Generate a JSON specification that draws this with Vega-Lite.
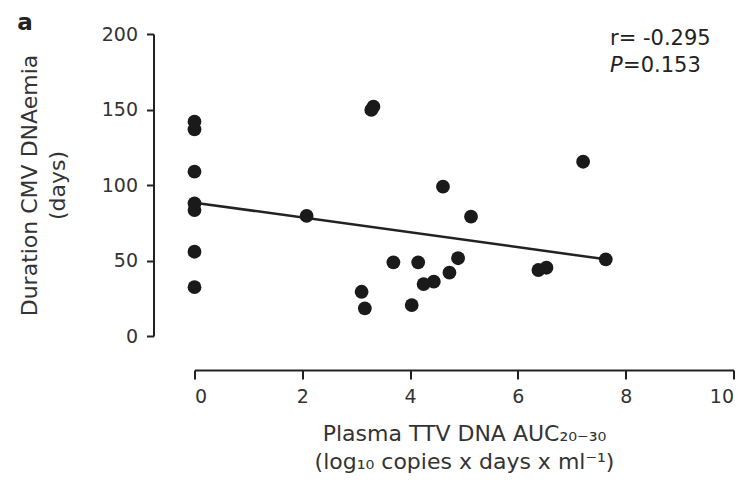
{
  "$schema": "https://vega.github.io/schema/vega-lite/v6.json",
  "autosize": "none",
  "width": 539,
  "height": 302,
  "padding": {"left": 194.5, "top": 34, "right": 16.5, "bottom": 147},
  "background": "white",
  "config": {
    "view": {"stroke": null},
    "font": "DejaVu Sans",
    "axis": {"grid": false, "domainColor": "#222", "tickColor": "#222", "domainWidth": 2, "tickWidth": 2, "labelColor": "#333", "titleColor": "#333", "labelFont": "DejaVu Sans", "titleFont": "DejaVu Sans", "labelFontSize": 19, "titleFontSize": 22, "titleFontWeight": "normal"}
  },
  "datasets": {
    "points": [
      {"auc": 0, "days": 141.9},
      {"auc": 0, "days": 136.9},
      {"auc": 0, "days": 108.8},
      {"auc": 0, "days": 87.9},
      {"auc": 0, "days": 83.4},
      {"auc": 0, "days": 55.8},
      {"auc": 0, "days": 32.3},
      {"auc": 2.08, "days": 79.5},
      {"auc": 3.10, "days": 29.3},
      {"auc": 3.16, "days": 18.3},
      {"auc": 3.32, "days": 151.9},
      {"auc": 3.28, "days": 149.7},
      {"auc": 3.69, "days": 48.8},
      {"auc": 4.03, "days": 20.5},
      {"auc": 4.15, "days": 48.8},
      {"auc": 4.25, "days": 34.4},
      {"auc": 4.44, "days": 36.0},
      {"auc": 4.61, "days": 98.9},
      {"auc": 4.73, "days": 41.9},
      {"auc": 4.89, "days": 51.5},
      {"auc": 5.13, "days": 79.0},
      {"auc": 6.38, "days": 43.7},
      {"auc": 6.53, "days": 45.2},
      {"auc": 7.21, "days": 115.4},
      {"auc": 7.63, "days": 50.8}
    ],
    "fit": [
      {"auc": 0, "days": 88.3},
      {"auc": 7.63, "days": 50.8}
    ],
    "stats": [
      {"auc": 7.71, "days": 192.7, "label": "r= -0.295"}
    ],
    "pstat": [
      {"auc": 7.71, "days": 174.8, "p": "P", "rest": "=0.153"}
    ],
    "panel": [
      {"auc": -3.29, "days": 202.6, "label": "a"}
    ]
  },
  "layer": [
    {
      "data": {"name": "fit"},
      "mark": {"type": "line", "color": "#222", "strokeWidth": 2.5},
      "encoding": {
        "x": {"field": "auc", "type": "quantitative", "scale": {"domain": [0, 10], "nice": false},
          "axis": {"values": [0, 2, 4, 6, 8, 10], "offset": 34, "tickSize": 9, "labelPadding": 8, "titlePadding": 17, "titleLineHeight": 28,
            "title": ["Plasma TTV DNA AUC₂₀₋₃₀", "(log₁₀ copies x days x ml⁻¹)"]}},
        "y": {"field": "days", "type": "quantitative", "scale": {"domain": [0, 200], "nice": false},
          "axis": {"values": [0, 50, 100, 150, 200], "offset": 41, "tickSize": 7, "labelPadding": 9, "titlePadding": 32, "titleLineHeight": 28,
            "title": ["Duration CMV DNAemia", "(days)"]}}
      }
    },
    {
      "data": {"name": "points"},
      "mark": {"type": "circle", "color": "#1a1a1a", "opacity": 1, "size": 190},
      "encoding": {
        "x": {"field": "auc", "type": "quantitative"},
        "y": {"field": "days", "type": "quantitative"}
      }
    },
    {
      "data": {"name": "stats"},
      "mark": {"type": "text", "align": "left", "baseline": "alphabetic", "fontSize": 21, "color": "#222", "font": "DejaVu Sans"},
      "encoding": {
        "x": {"field": "auc", "type": "quantitative"},
        "y": {"field": "days", "type": "quantitative"},
        "text": {"field": "label"}
      }
    },
    {
      "data": {"name": "pstat"},
      "mark": {"type": "text", "align": "left", "baseline": "alphabetic", "fontSize": 21, "fontStyle": "italic", "color": "#222", "font": "DejaVu Sans"},
      "encoding": {
        "x": {"field": "auc", "type": "quantitative"},
        "y": {"field": "days", "type": "quantitative"},
        "text": {"field": "p"}
      }
    },
    {
      "data": {"name": "pstat"},
      "mark": {"type": "text", "align": "left", "baseline": "alphabetic", "fontSize": 21, "dx": 13, "color": "#222", "font": "DejaVu Sans"},
      "encoding": {
        "x": {"field": "auc", "type": "quantitative"},
        "y": {"field": "days", "type": "quantitative"},
        "text": {"field": "rest"}
      }
    },
    {
      "data": {"name": "panel"},
      "mark": {"type": "text", "align": "left", "baseline": "alphabetic", "fontSize": 23, "fontWeight": "bold", "color": "#222", "font": "DejaVu Sans"},
      "encoding": {
        "x": {"field": "auc", "type": "quantitative"},
        "y": {"field": "days", "type": "quantitative"},
        "text": {"field": "label"}
      }
    }
  ]
}
